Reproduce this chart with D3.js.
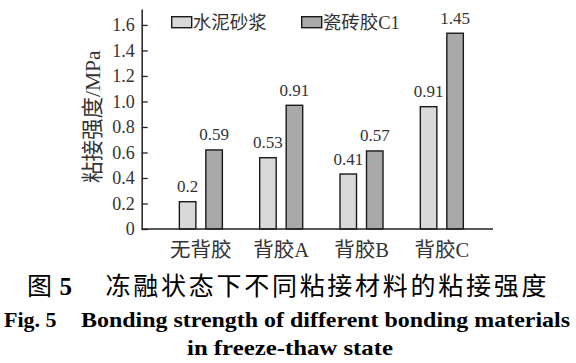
<!DOCTYPE html>
<html>
<head>
<meta charset="utf-8">
<script src="https://cdn.jsdelivr.net/npm/d3@7/dist/d3.min.js"></script>
<style>
	body { margin: 0; background: #fff; }
	svg { display: block; }
	.chart-text { font-family: "Liberation Serif", "Noto Sans CJK SC", serif; fill: #333; }
</style>
</head>
<body>
<script>
// - data -

var categories = ['无背胶', '背胶A', '背胶B', '背胶C'];
var seriesNames = ['水泥砂浆', '瓷砖胶C1'];
// bar heights as drawn in the figure
var mortarValues = [0.214, 0.559, 0.431, 0.959];
var tileGlueValues = [0.62, 0.97, 0.612, 1.535];
// printed value labels
var mortarLabels = ['0.2', '0.53', '0.41', '0.91'];
var tileGlueLabels = ['0.59', '0.91', '0.57', '1.45'];
var yTicks = [0, 0.2, 0.4, 0.6, 0.8, 1.0, 1.2, 1.4, 1.6];

var seriesFill = ['#d9d9d9', '#a9a9a9'];

// - global -

var width = 576;
var height = 363;

var svg = d3.select('body').append('svg')
	.attr('width', width)
	.attr('height', height);

var plot = {
	left: 141.7,
	right: 493,
	top: 9,
	bottom: 229
};

var y = d3.scaleLinear()
	.domain([0, 1.725])
	.range([plot.bottom, plot.top]);

var x0 = d3.scaleBand()
	.domain(categories)
	.range([plot.left + 19, plot.right - 11]);

var x1 = d3.scaleBand()
	.domain([0, 1])
	.range([x0.bandwidth() / 2 - 21.5, x0.bandwidth() / 2 + 21.5])
	.paddingInner(0.377);

// - bars -

var rows = categories.map(function(c, i) {
	return [
		{ cat: c, s: 0, value: mortarValues[i], label: mortarLabels[i] },
		{ cat: c, s: 1, value: tileGlueValues[i], label: tileGlueLabels[i] }
	];
});

var groups = svg.append('g').selectAll('g')
	.data(rows).enter()
	.append('g')
		.attr('transform', function(d, i) { return 'translate(' + x0(categories[i]) + ',0)'; });

groups.selectAll('rect')
	.data(function(d) { return d; }).enter()
	.append('rect')
		.attr('x', function(d) { return x1(d.s); })
		.attr('y', function(d) { return y(d.value); })
		.attr('width', x1.bandwidth())
		.attr('height', function(d) { return y(0) - y(d.value); })
		.attr('fill', function(d) { return seriesFill[d.s]; })
		.attr('stroke', '#1a1a1a')
		.attr('stroke-width', 1.4);

groups.selectAll('text')
	.data(function(d) { return d; }).enter()
	.append('text')
		.attr('class', 'chart-text')
		.attr('x', function(d) { return x1(d.s) + x1.bandwidth() / 2; })
		.attr('y', function(d) { return y(d.value) - 9.5; })
		.attr('text-anchor', 'middle')
		.style('font-size', '17px')
		.text(function(d) { return d.label; });

// - axes -

var yAxis = svg.append('g')
	.attr('transform', 'translate(' + plot.left + ',0)')
	.call(d3.axisLeft(y)
		.tickValues(yTicks)
		.tickSizeInner(-6)
		.tickSizeOuter(0)
		.tickPadding(7)
		.tickFormat(function(d) { return d === 0 ? '0' : d3.format('.1f')(d); }));

yAxis.select('.domain').attr('stroke', '#222').attr('stroke-width', 1.5);
yAxis.selectAll('.tick line').attr('stroke', '#222').attr('stroke-width', 1.3);
yAxis.selectAll('.tick text')
	.attr('class', 'chart-text')
	.style('font-size', '18px');

svg.append('line')
	.attr('x1', plot.left)
	.attr('x2', plot.right)
	.attr('y1', y(0))
	.attr('y2', y(0))
	.attr('stroke', '#222')
	.attr('stroke-width', 1.5);

// category labels
svg.append('g').selectAll('text')
	.data(categories).enter()
	.append('text')
		.attr('class', 'chart-text')
		.attr('x', function(d) { return x0(d) + x0.bandwidth() / 2; })
		.attr('y', 256.5)
		.attr('text-anchor', 'middle')
		.style('font-size', '20.5px')
		.text(function(d) { return d; });

// y title
svg.append('text')
	.attr('class', 'chart-text')
	.attr('transform', 'translate(92.5,116.7) rotate(-90)')
	.attr('text-anchor', 'middle')
	.attr('dominant-baseline', 'central')
	.style('font-size', '21.5px')
	.text('粘接强度/MPa');

// - legend -

var legendX = [171.7, 301.7];
var legend = svg.append('g').selectAll('g')
	.data(seriesNames).enter()
	.append('g')
		.attr('transform', function(d, i) { return 'translate(' + legendX[i] + ',16.7)'; });

legend.append('rect')
	.attr('width', 20)
	.attr('height', 11)
	.attr('fill', function(d, i) { return seriesFill[i]; })
	.attr('stroke', '#1a1a1a')
	.attr('stroke-width', 1.4);

legend.append('text')
	.attr('class', 'chart-text')
	.attr('x', 21)
	.attr('y', 11.8)
	.style('font-size', '18.5px')
	.text(function(d) { return d; });

// - caption -

var cap = svg.append('g');

cap.append('text')
	.attr('x', 27)
	.attr('y', 295)
	.style('font-family', '"Noto Sans CJK SC", sans-serif')
	.style('font-size', '25px')
	.text('图');

cap.append('text')
	.attr('x', 59.5)
	.attr('y', 295)
	.style('font-family', '"Liberation Serif", serif')
	.style('font-weight', 'bold')
	.style('font-size', '25px')
	.text('5');

cap.append('text')
	.attr('x', 105.5)
	.attr('y', 295)
	.attr('textLength', 441)
	.attr('lengthAdjust', 'spacing')
	.style('font-family', '"Noto Sans CJK SC", sans-serif')
	.style('font-size', '25px')
	.text('冻融状态下不同粘接材料的粘接强度');

cap.append('text')
	.attr('x', 4)
	.attr('y', 327)
	.style('font-family', '"Liberation Serif", serif')
	.style('font-weight', 'bold')
	.style('font-size', '22px')
	.text('Fig. 5');

cap.append('text')
	.attr('x', 81)
	.attr('y', 327)
	.attr('textLength', 489)
	.attr('lengthAdjust', 'spacingAndGlyphs')
	.style('font-family', '"Liberation Serif", serif')
	.style('font-weight', 'bold')
	.style('font-size', '22px')
	.text('Bonding strength of different bonding materials');

cap.append('text')
	.attr('x', 290)
	.attr('y', 355)
	.attr('text-anchor', 'middle')
	.attr('textLength', 206)
	.attr('lengthAdjust', 'spacingAndGlyphs')
	.style('font-family', '"Liberation Serif", serif')
	.style('font-weight', 'bold')
	.style('font-size', '22px')
	.text('in freeze-thaw state');
</script>
</body>
</html>
